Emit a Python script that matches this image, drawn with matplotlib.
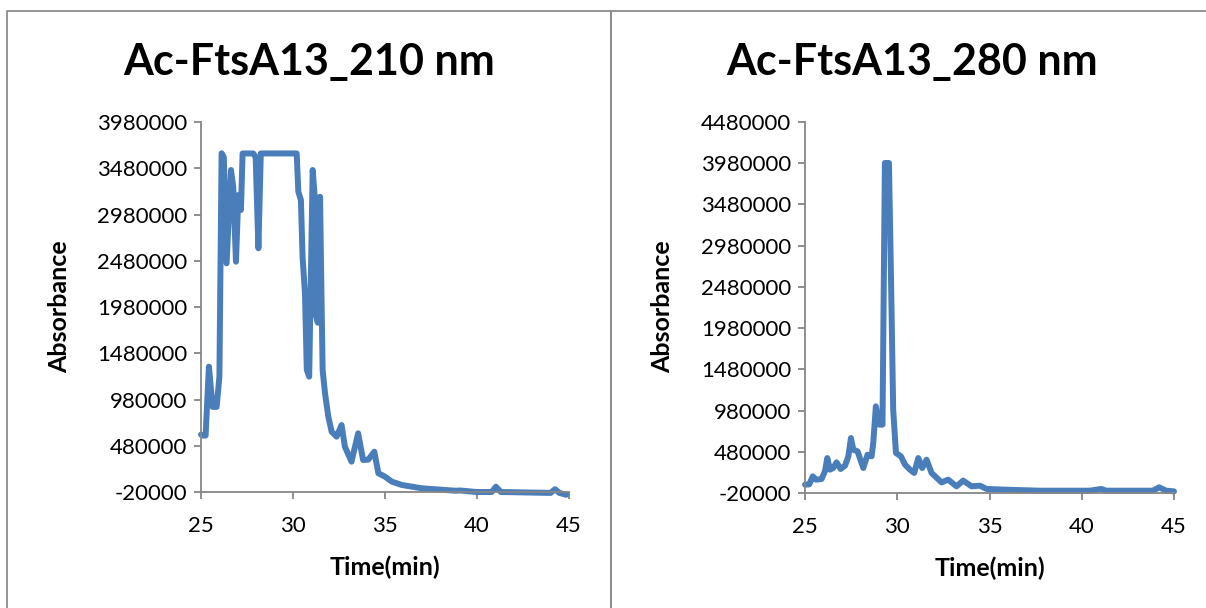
import matplotlib
matplotlib.use("Agg")
import matplotlib.pyplot as plt
from matplotlib.lines import Line2D

# chromatogram traces
time_210 = [25.0, 25.1, 25.25, 25.43, 25.63, 25.85, 26.0, 26.12, 26.24, 26.39, 26.63, 26.75,
            26.9, 27.03, 27.17, 27.26, 27.84, 27.97, 28.12, 28.25, 30.2, 30.29, 30.43, 30.52,
            30.65, 30.75, 30.88, 30.94, 31.07, 31.17, 31.26, 31.35, 31.47, 31.56, 31.61, 31.74,
            31.92, 32.1, 32.37, 32.64, 32.82, 33.18, 33.54, 33.81, 34.09, 34.42, 34.64, 35.0,
            35.37, 35.91, 37.0, 38.8, 39.1, 39.98, 40.8, 41.03, 41.3, 44.0, 44.24, 44.48, 44.85]
abs_210 = [600000, 590000, 590000, 1335000, 900000, 900000, 1227000, 3642000, 3600000, 2452000,
           3461000, 3280000, 2470000, 3191000, 3029000, 3640000, 3640000, 3600000, 2615000,
           3640000, 3640000, 3226000, 3137000, 2524000, 2128000, 1300000, 1227000, 1948000,
           3461000, 3200000, 1875000, 1810000, 3172000, 1948000, 1299000, 1047000, 794000,
           632000, 578000, 704000, 470000, 308000, 614000, 326000, 330000, 416000, 182000,
           146000, 92000, 56000, 20000, -6000, -4000, -20000, -20000, 37000, -20000, -30000,
           10000, -30000, -50000]

time_280 = [25.0, 25.23, 25.42, 25.6, 25.9, 26.08, 26.21, 26.35, 26.53, 26.71, 26.93, 27.17,
            27.35, 27.49, 27.62, 27.85, 28.16, 28.39, 28.61, 28.7, 28.84, 29.03, 29.2, 29.33,
            29.55, 29.66, 29.78, 29.93, 30.2, 30.42, 30.69, 30.92, 31.14, 31.35, 31.59, 31.86,
            32.4, 32.76, 33.21, 33.57, 34.03, 34.48, 34.84, 35.92, 37.72, 40.43, 41.06, 41.33,
            43.86, 44.19, 44.58, 45.0]
abs_280 = [81000, 85000, 182000, 142000, 150000, 243000, 404000, 263000, 283000, 352000,
           271000, 312000, 425000, 647000, 505000, 485000, 283000, 445000, 425000, 586000,
           1031000, 809000, 809000, 3983000, 3983000, 2608000, 991000, 465000, 425000, 324000,
           263000, 223000, 404000, 283000, 384000, 223000, 109000, 142000, 61000, 130000,
           61000, 69000, 29000, 20000, 8000, 8000, 29000, 8000, 8000, 49000, 8000, 0]

ticks_210 = list(range(-20000, 3980001, 500000))
ticks_280 = list(range(-20000, 4480001, 500000))
xticks = [25, 30, 35, 40, 45]

plt.rcParams['font.family'] = ['Lato', 'DejaVu Sans']
blue = '#4A7EBB'
grey = '#868686'

fig = plt.figure(figsize=(12.06, 6.08), dpi=100)

# outer chart frames
W, H = 1206.0, 608.0
for xs, ys in [([7, 7, 611, 611], [700, 11, 11, 700]),
               ([611, 611, 1210], [700, 11, 11])]:
    fig.add_artist(Line2D([x / W for x in xs], [1 - y / H for y in ys],
                          transform=fig.transFigure, color='#8c8c8c', lw=1.3))

panels = [
    ([201 / W, 1 - 492 / H, 368 / W, 370 / H], time_210, abs_210, ticks_210,
     'Ac-FtsA13_210 nm', 309, 60),
    ([805 / W, 1 - 493 / H, 369 / W, 371 / H], time_280, abs_280, ticks_280,
     'Ac-FtsA13_280 nm', 912, 663),
]

for rect, t, a, yt, title, tx, lx in panels:
    ax = fig.add_axes(rect)
    ax.plot(t, a, color=blue, lw=4.3, solid_joinstyle='round', solid_capstyle='round',
            clip_on=False)
    ax.set_xlim(25, 45)
    ax.set_ylim(yt[0], yt[-1])
    ax.set_xticks(xticks)
    ax.set_yticks(yt)
    ax.set_yticklabels([str(v) for v in yt])
    for s in ['top', 'right']:
        ax.spines[s].set_visible(False)
    for s in ['left', 'bottom']:
        ax.spines[s].set_color(grey)
        ax.spines[s].set_linewidth(1.3)
    ax.tick_params(direction='out', length=5, width=1.3, color=grey,
                   labelsize=16, labelcolor='black')
    ax.tick_params(axis='y', pad=5)
    ax.tick_params(axis='x', pad=12)
    ax.set_xlabel('Time(min)', fontsize=18, fontweight='bold', labelpad=14)
    fig.text(lx / W, 1 - 307 / H, 'Absorbance', rotation=90, fontsize=18,
             fontweight='bold', ha='center', va='center')
    fig.text(tx / W, 1 - 62 / H, title, fontsize=31, fontweight='bold',
             ha='center', va='center')

fig.savefig('out.png', dpi=100)
